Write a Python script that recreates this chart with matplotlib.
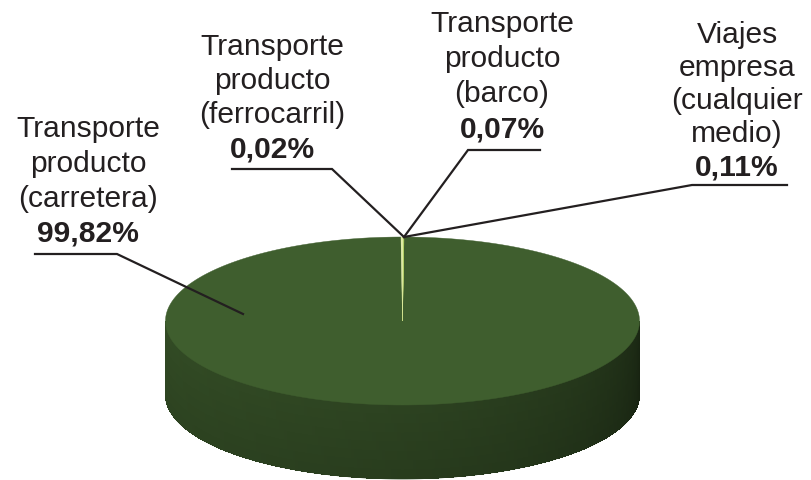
#! /usr/bin/env python3

import numpy as np
import matplotlib
matplotlib.use("Agg")
import matplotlib.pyplot as plt
from matplotlib.collections import PolyCollection
from matplotlib.colors import to_rgb

# shares of emissions by category (percent)
categories = ["Transporte\nproducto\n(carretera)",
              "Transporte\nproducto\n(ferrocarril)",
              "Transporte\nproducto\n(barco)",
              "Viajes\nempresa\n(cualquier\nmedio)"]
shares = [99.82, 0.02, 0.07, 0.11]
pct_labels = ["99,82%", "0,02%", "0,07%", "0,11%"]
colors = ["#3f5e2e", "#cfe07e", "#a9c95c", "#e4efa6"]

TEXT = "#231f20"
FONT = "Liberation Sans"

# pie geometry in pixels
CX, CY = 402.5, 321
RA, RB = 237, 84
DEPTH = 74


def wedge_edges(values):
    total = float(sum(values))
    small = sum(values[1:]) / total * 360
    start = 90 + small / 2
    bounds = start + np.concatenate([[0], np.cumsum(values)]) / total * 360
    return bounds


def color_at(theta, bounds):
    t = theta
    while t < bounds[0]:
        t += 360
    for i in range(len(bounds) - 1):
        if bounds[i] <= t < bounds[i + 1]:
            return to_rgb(colors[i])
    return to_rgb(colors[0])


def ell(theta):
    r = np.radians(theta)
    return CX + RA * np.cos(r), CY - RB * np.sin(r)


def draw_pie(ax):
    bounds = wedge_edges(shares)

    # side wall, front half only; a plain backing shape hides seams
    th = np.linspace(180, 360, 240)
    xs, ys = ell(th)
    outline = list(zip(xs, ys)) + list(zip(xs[::-1], ys[::-1] + DEPTH))
    ax.add_patch(plt.Polygon(outline, closed=True, facecolor="#2b4220",
                             edgecolor="#2b4220", linewidth=0.5, zorder=0.5))

    polys, cols = [], []
    nz = 8
    for i in range(len(th) - 1):
        x0, y0 = xs[i], ys[i]
        x1, y1 = xs[i + 1], ys[i + 1]
        mid = 0.5 * (th[i] + th[i + 1])
        base = np.array(color_at(mid, bounds))
        u = (mid - 180) / 180.0
        shade = 0.80 - 0.12 * u - 0.28 * u ** 3
        for k in range(nz):
            d0, d1 = DEPTH * k / nz, DEPTH * (k + 1) / nz
            f = shade * (1 - 0.10 * (k + 0.5) / nz)
            polys.append([(x0, y0 + d0), (x1, y1 + d0), (x1, y1 + d1), (x0, y0 + d1)])
            cols.append(np.clip(base * f, 0, 1))
    ax.add_collection(PolyCollection(polys, facecolors=cols, edgecolors="none",
                                     antialiaseds=False, zorder=1))

    # top face
    for i in range(len(shares)):
        a = np.linspace(bounds[i], bounds[i + 1], max(3, int(bounds[i + 1] - bounds[i]) * 2))
        xs, ys = ell(a)
        pts = [(CX, CY)] + list(zip(xs, ys))
        ax.add_patch(plt.Polygon(pts, closed=True, facecolor=colors[i],
                                 edgecolor=colors[i], linewidth=0.3, zorder=2))


def label(ax, x, y0, name, pct, step, line, anchor):
    rows = name.split("\n")
    for j, r in enumerate(rows):
        ax.text(x, y0 + j * step, r, ha="center", va="baseline",
                fontsize=21.6, family=FONT, color=TEXT, zorder=5)
    ax.text(x, y0 + len(rows) * step, pct, ha="center", va="baseline",
            fontsize=21.6, family=FONT, fontweight="bold", color=TEXT, zorder=5)
    (xa, xb, yl, xe) = line
    ax.plot([xa, xe, anchor[0]], [yl, yl, anchor[1]], color=TEXT, lw=1.6,
            solid_joinstyle="miter", zorder=4)


def main():
    fig = plt.figure(figsize=(8.11, 4.8), dpi=100)
    ax = fig.add_axes([0, 0, 1, 1])
    ax.set_xlim(0, 811)
    ax.set_ylim(480, 0)
    ax.axis("off")

    draw_pie(ax)

    top = (404, 237)
    label(ax, 88, 137, categories[0], pct_labels[0], 35, (35, 117, 254, 117), (243, 314))
    label(ax, 272, 55, categories[1], pct_labels[1], 34, (232, 332, 169, 332), top)
    label(ax, 502, 32, categories[2], pct_labels[2], 35, (540, 468, 150, 468), top)
    label(ax, 737, 43, categories[3], pct_labels[3], 33, (787, 692, 185, 692), top)

    fig.savefig("out.png", dpi=100, facecolor="white")


if __name__ == "__main__":
    main()
